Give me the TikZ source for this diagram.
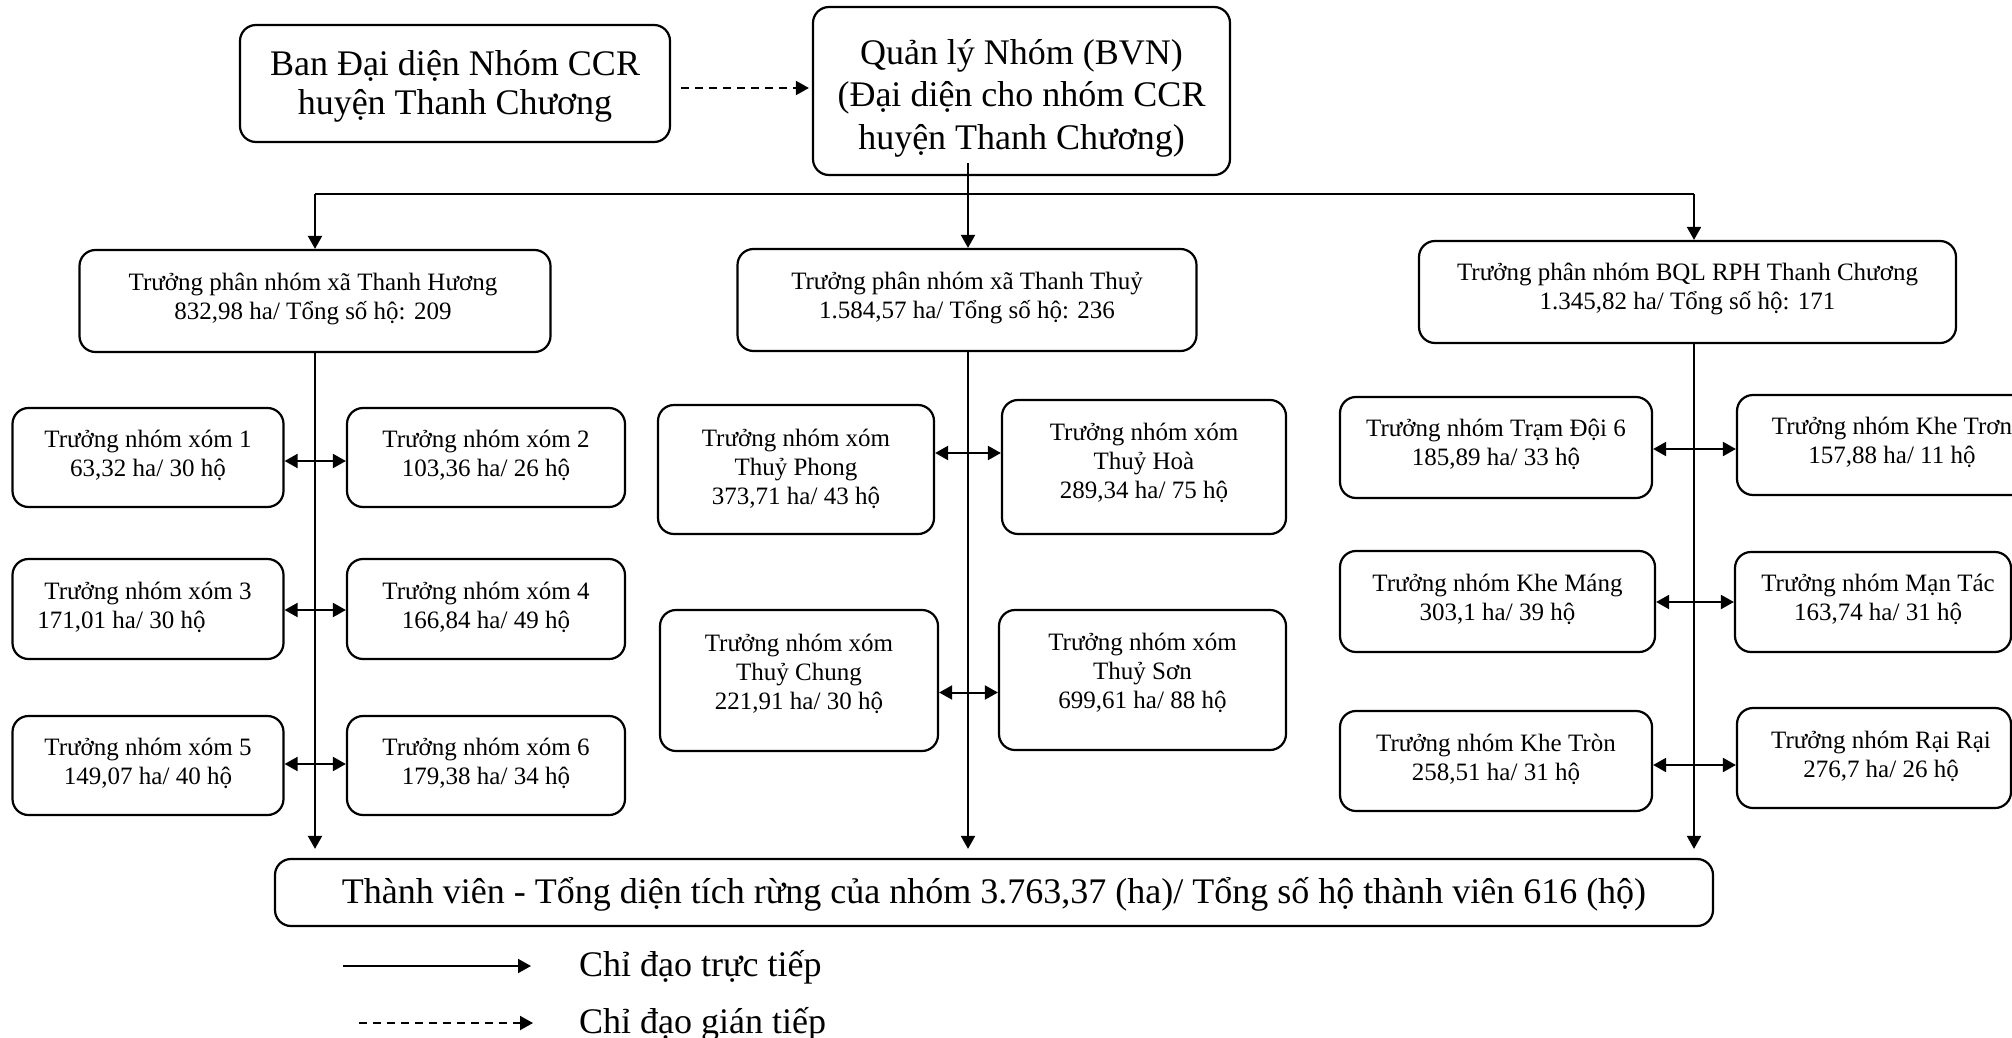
\documentclass[tikz,border=0pt]{standalone}
\usepackage{fontspec}
\setmainfont{Liberation Serif}
\usetikzlibrary{arrows.meta,calc}
\newcommand{\mkbox}[9]{%
  \node[boxst, minimum width=#4pt, minimum height=#5pt] (#1) at (#2,#3) {};
  \node[#8] (#1t) at ($(#1.center)+(#6,#7)$) {#9};}
\begin{document}
\begin{tikzpicture}[x=1pt, y=-1pt,
  boxst/.style={draw, line width=2.2pt, rounded corners=16pt, inner sep=0pt},
  bigA/.style={font=\fontsize{36}{39}\selectfont, align=center, inner sep=0pt},
  bigB/.style={font=\fontsize{36}{42.5}\selectfont, align=center, inner sep=0pt},
  bigC/.style={font=\fontsize{36}{40}\selectfont, align=center, inner sep=0pt},
  smalltxt/.style={font=\fontsize{25}{29}\selectfont, align=center, inner sep=0pt},
  conn/.style={line width=2pt},
  arr/.style={conn, -{Triangle[length=13pt,width=14pt]}},
  dbl/.style={conn, {Triangle[length=13pt,width=14pt]}-{Triangle[length=13pt,width=14pt]}},
  dsh/.style={dash pattern=on 8pt off 6pt}]
\useasboundingbox (0,0) rectangle (2012,1038);
\clip (0,0) rectangle (2012,1038);
\fill[white] (0,0) rectangle (2012,1038);

% top level
\mkbox{Ban}{455}{83.5}{430}{117}{0}{2.5}{bigA}{Ban Đại diện Nhóm CCR\\huyện Thanh Chương}
\mkbox{QL}{1021.5}{91}{417}{168}{0}{7}{bigB}{Quản lý Nhóm (BVN)\\(Đại diện cho nhóm CCR\\huyện Thanh Chương)}

% second level
\mkbox{TH}{315}{301}{471}{102}{-2}{-2}{smalltxt}{Trưởng phân nhóm xã Thanh Hương\\832,98 ha/ Tổng số hộ: 209}
\mkbox{TT}{967}{300}{459}{102}{0}{-2.5}{smalltxt}{Trưởng phân nhóm xã Thanh Thuỷ\\1.584,57 ha/ Tổng số hộ: 236}
\mkbox{BQL}{1687.5}{292}{537}{102}{0}{-3}{smalltxt}{Trưởng phân nhóm BQL RPH Thanh Chương\\1.345,82 ha/ Tổng số hộ: 171}

% left group
\mkbox{X1}{148}{457.5}{271}{99}{0}{-2}{smalltxt}{Trưởng nhóm xóm 1\\63,32 ha/ 30 hộ}
\mkbox{X2}{486}{457.5}{278}{99}{0}{-2}{smalltxt}{Trưởng nhóm xóm 2\\103,36 ha/ 26 hộ}
\mkbox{X3}{148}{609}{271}{100}{0}{-2}{smalltxt}{Trưởng nhóm xóm 3\\171,01 ha/ 30 hộ\hspace*{53pt}}
\mkbox{X4}{486}{609}{278}{100}{0}{-2}{smalltxt}{Trưởng nhóm xóm 4\\166,84 ha/ 49 hộ}
\mkbox{X5}{148}{765.5}{271}{99}{0}{-2}{smalltxt}{Trưởng nhóm xóm 5\\149,07 ha/ 40 hộ}
\mkbox{X6}{486}{765.5}{278}{99}{0}{-2}{smalltxt}{Trưởng nhóm xóm 6\\179,38 ha/ 34 hộ}

% middle group
\mkbox{TP}{796}{469.5}{276}{129}{0}{-1}{smalltxt}{Trưởng nhóm xóm\\Thuỷ Phong\\373,71 ha/ 43 hộ}
\mkbox{HO}{1144}{467}{284}{134}{0}{-4}{smalltxt}{Trưởng nhóm xóm\\Thuỷ Hoà\\289,34 ha/ 75 hộ}
\mkbox{TC}{799}{680.5}{278}{141}{0}{-7}{smalltxt}{Trưởng nhóm xóm\\Thuỷ Chung\\221,91 ha/ 30 hộ}
\mkbox{TS}{1142.5}{680}{287}{140}{0}{-7}{smalltxt}{Trưởng nhóm xóm\\Thuỷ Sơn\\699,61 ha/ 88 hộ}

% right group
\mkbox{D6}{1496}{447.5}{312}{101}{0}{-3}{smalltxt}{Trưởng nhóm Trạm Đội 6\\185,89 ha/ 33 hộ}
\mkbox{KT}{1892}{445}{310}{100}{0}{-3}{smalltxt}{Trưởng nhóm Khe Trơn\\157,88 ha/ 11 hộ}
\mkbox{KM}{1497.5}{601.5}{315}{101}{0}{-2}{smalltxt}{Trưởng nhóm Khe Máng\\303,1 ha/ 39 hộ}
\mkbox{MT}{1873}{602}{276}{100}{5}{-3}{smalltxt}{Trưởng nhóm Mạn Tác\\163,74 ha/ 31 hộ}
\mkbox{KR}{1496}{761}{312}{100}{0}{-2}{smalltxt}{Trưởng nhóm Khe Tròn\\258,51 ha/ 31 hộ}
\mkbox{RR}{1874}{758}{274}{100}{7}{-2}{smalltxt}{Trưởng nhóm Rại Rại\\276,7 ha/ 26 hộ}

% bottom
\mkbox{TV}{994}{892.5}{1438}{67}{0}{2}{bigC}{Thành viên - Tổng diện tích rừng của nhóm 3.763,37 (ha)/ Tổng số hộ thành viên 616 (hộ)}

% trunk connectors
\coordinate (jL) at (315,194);
\coordinate (jM) at (968,194);
\coordinate (jR) at (1694,194);
\draw[conn] ($(QL.south -| jM)+(0,-13)$) -- (jM);
\draw[conn] (jL) -- (jR);
\draw[arr] (jL) -- (jL |- TH.north);
\draw[arr] (jM) -- (jM |- TT.north);
\draw[arr] (jR) -- (jR |- BQL.north);
\draw[arr, shorten >=9pt] (TH.south -| jL) -- (jL |- TV.north);
\draw[arr, shorten >=9pt] (TT.south -| jM) -- (jM |- TV.north);
\draw[arr, shorten >=9pt] (BQL.south -| jR) -- (jR |- TV.north);

% dashed link
\coordinate (yd) at (0,88);
\draw[arr, dsh, shorten <=10pt, shorten >=3pt] (Ban.east |- yd) -- (QL.west |- yd);

% horizontal double arrows
\coordinate (r1) at (0,461);
\coordinate (r2) at (0,610);
\coordinate (r3) at (0,764);
\coordinate (m1) at (0,453);
\coordinate (m2) at (0,692.5);
\coordinate (q1) at (0,449);
\coordinate (q2) at (0,602);
\coordinate (q3) at (0,765);
\draw[dbl] (X1.east |- r1) -- (X2.west |- r1);
\draw[dbl] (X3.east |- r2) -- (X4.west |- r2);
\draw[dbl] (X5.east |- r3) -- (X6.west |- r3);
\draw[dbl] (TP.east |- m1) -- (HO.west |- m1);
\draw[dbl] (TC.east |- m2) -- (TS.west |- m2);
\draw[dbl] (D6.east |- q1) -- (KT.west |- q1);
\draw[dbl] (KM.east |- q2) -- (MT.west |- q2);
\draw[dbl] (KR.east |- q3) -- (RR.west |- q3);

% legend
\coordinate (l1a) at (343,966);
\coordinate (l1b) at (531,966);
\coordinate (l2a) at (359,1023);
\coordinate (l2b) at (533,1023);
\node[bigC, anchor=west] (l1t) at (579,967) {Chỉ đạo trực tiếp};
\node[bigC, anchor=west] (l2t) at (579,1024) {Chỉ đạo gián tiếp};
\draw[arr] (l1a) -- (l1b);
\draw[arr, dsh] (l2a) -- (l2b);
\end{tikzpicture}
\end{document}
